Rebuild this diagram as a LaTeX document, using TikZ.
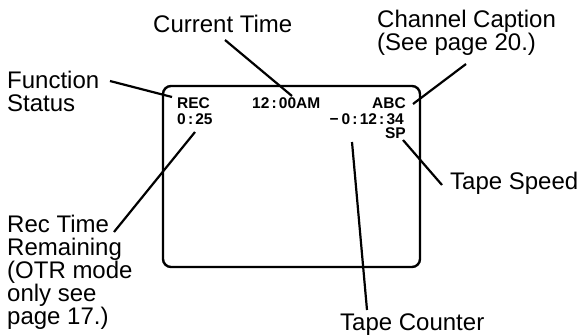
\documentclass[tikz,border=0pt]{standalone}
\usepackage{fontspec}
\setmainfont{Liberation Sans}
\newcommand{\cln}{\kern2.2pt:\kern2.2pt}
\begin{document}
\begin{tikzpicture}[x=1pt,y=-1pt,
  lbl/.style={font=\fontsize{24}{23}\selectfont, inner sep=0pt, align=left},
  scr/.style={font=\fontsize{15.5}{16}\selectfont\bfseries, inner sep=0pt},
  lead/.style={line width=2.2pt},
  screen/.style={draw, line width=2.4pt, rounded corners=8pt, inner sep=0pt}]
\useasboundingbox (0,0) rectangle (578,335);
% screen
\node[screen, minimum width=257pt, minimum height=181pt] (tv) at (291.5,176.5) {};
% on-screen display
\node[scr, anchor=base west] (rec) at (177,108) {REC};
\node[scr, anchor=base west] (clock) at (252,108) {12\cln00AM};
\node[scr, anchor=base east] (abc) at (406,108) {ABC};
\node[scr, anchor=base west] (remain) at (177,124) {0\cln25};
\node[scr, anchor=base east] (counter) at (404,124) {−\kern3pt0\cln12\cln34};
\node[scr, anchor=base east] (speed) at (406,138) {SP};
% labels (base anchor = baseline of the last line)
\node[lbl, anchor=base west] (fs) at (7,111) {Function\\Status};
\node[lbl, anchor=base west] (ct) at (153,32) {Current Time};
\node[lbl, anchor=base west] (cc) at (377,50) {Channel Caption\\(See page 20.)};
\node[lbl, anchor=base west] (rt) at (7,324) {Rec Time\\Remaining\\(OTR mode\\only see\\page 17.)};
\node[lbl, anchor=base west] (ts) at (450,189) {Tape Speed};
\node[lbl, anchor=base west] (tc) at (340,330) {Tape Counter};
% leader end points
\coordinate (fsA) at (110,81);  \coordinate (fsB) at (172,97);
\coordinate (ctA) at (225,40);  \coordinate (ctB) at (292,96);
\coordinate (ccA) at (466,64);  \coordinate (ccB) at (413,104);
\coordinate (rtA) at (114,232); \coordinate (rtB) at (195,132);
\coordinate (tcA) at (367,310); \coordinate (tcB) at (352,142);
\coordinate (tsA) at (442,185); \coordinate (tsB) at (403,140);
\draw[lead] (fsA) -- (fsB);
\draw[lead] (ctA) -- (ctB);
\draw[lead] (ccA) -- (ccB);
\draw[lead] (rtA) -- (rtB);
\draw[lead] (tcA) -- (tcB);
\draw[lead] (tsA) -- (tsB);
\end{tikzpicture}
\end{document}
